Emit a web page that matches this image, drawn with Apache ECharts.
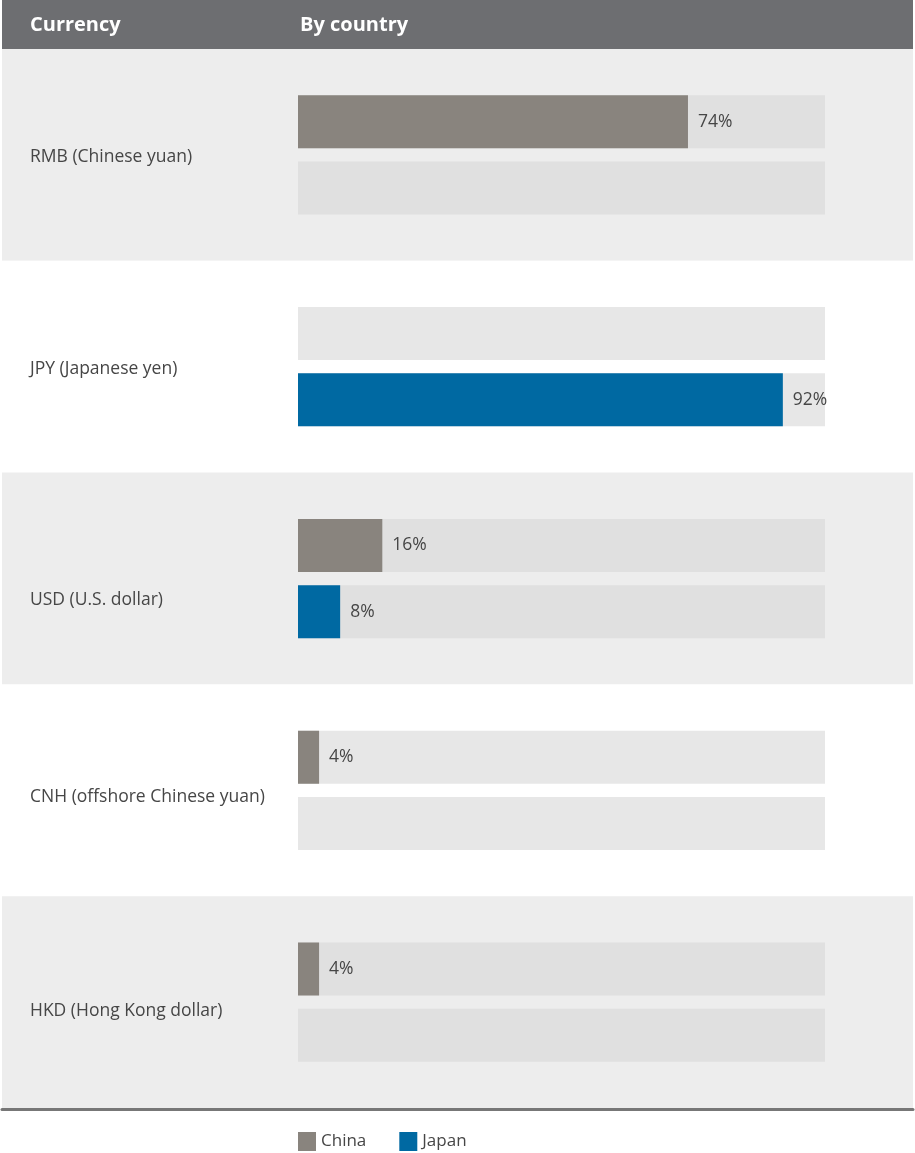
<!DOCTYPE html>
<html>
<head>
<meta charset="utf-8">
<title>Currency by country</title>
<script src="https://cdn.jsdelivr.net/npm/echarts@6/dist/echarts.min.js"></script>
<style>
  html, body { margin: 0; padding: 0; background: #ffffff; }
  #chart { width: 915px; height: 1153px; }
</style>
</head>
<body>
<div id="chart"></div>
<script>
// Currencies, top to bottom
const currencies = [
  'RMB (Chinese yuan)',
  'JPY (Japanese yen)',
  'USD (U.S. dollar)',
  'CNH (offshore Chinese yuan)',
  'HKD (Hong Kong dollar)'
];
// Share of each currency by country (%), '-' where no value is reported
const chinaShare = [74, '-', 16, 4, 4];
const japanShare = ['-', 92, 8, '-', '-'];
const seriesNames = ['China', 'Japan'];
const headerLabels = ['Currency', 'By country'];

const FONT = '"Open Sans", "Noto Sans", sans-serif';
const TEXT = '#464646';

// Downward nudge (px) of each row label inside its band
const labelNudge = [2, 2, 22, 7, 9];
const labelRich = {};
labelNudge.forEach(function (n, i) {
  labelRich['r' + i] = {
    color: TEXT, fontFamily: FONT, fontSize: 17.5,
    padding: [2 * n, 0, 0, 0]
  };
});

const chart = echarts.init(document.getElementById('chart'));

const valueLabel = {
  show: true,
  position: 'right',
  distance: 10,
  formatter: '{c}%',
  color: TEXT,
  fontFamily: FONT,
  fontSize: 17.5
};

chart.setOption({
  animation: false,
  backgroundColor: '#ffffff',
  graphic: [
    { type: 'rect', shape: { x: 2, y: 0, width: 911, height: 49 }, style: { fill: '#6d6e71' }, z: 10 },
    { type: 'text', x: 30, y: 25, style: { text: headerLabels[0], fill: '#ffffff', font: 'bold 20px ' + FONT, verticalAlign: 'middle' }, z: 11 },
    { type: 'text', x: 300, y: 25, style: { text: headerLabels[1], fill: '#ffffff', font: 'bold 20px ' + FONT, verticalAlign: 'middle' }, z: 11 }
  ],
  legend: {
    data: seriesNames,
    left: 293,
    top: 1127,
    icon: 'rect',
    itemWidth: 18,
    itemHeight: 19,
    itemGap: 33,
    textStyle: { color: TEXT, fontFamily: FONT, fontSize: 17 }
  },
  grid: [
    { left: 298, right: 90, top: 49, bottom: 45 },
    { left: 2, right: 2, top: 49, bottom: 45 }
  ],
  xAxis: [
    { type: 'value', gridIndex: 0, min: 0, max: 100, show: false },
    {
      type: 'value', gridIndex: 1, min: 0, max: 100, offset: 1.5,
      axisLine: { show: true, lineStyle: { color: '#777777', width: 3 } },
      axisTick: { show: false }, axisLabel: { show: false }, splitLine: { show: false }
    }
  ],
  yAxis: [
    {
      type: 'category', gridIndex: 0, data: currencies, inverse: true,
      axisLine: { show: false }, axisTick: { show: false },
      axisLabel: {
        align: 'left', margin: 268, color: TEXT, fontFamily: FONT, fontSize: 17.5,
        formatter: function (value, index) { return '{r' + index + '|' + value + '}'; },
        rich: labelRich
      }
    },
    {
      type: 'category', gridIndex: 1, data: currencies, inverse: true,
      axisLine: { show: false }, axisTick: { show: false }, axisLabel: { show: false },
      splitLine: { show: false },
      splitArea: { show: true, areaStyle: { color: ['#ededed', '#ffffff'] } }
    }
  ],
  series: [
    {
      name: seriesNames[0], type: 'bar', xAxisIndex: 0, yAxisIndex: 0,
      data: chinaShare, barWidth: 53, barGap: '25%',
      itemStyle: { color: '#89847e' },
      showBackground: true,
      backgroundStyle: { color: 'rgba(216,216,216,0.61)' },
      label: valueLabel
    },
    {
      name: seriesNames[1], type: 'bar', xAxisIndex: 0, yAxisIndex: 0,
      data: japanShare, barWidth: 53, barGap: '25%',
      itemStyle: { color: '#0069a2' },
      showBackground: true,
      backgroundStyle: { color: 'rgba(216,216,216,0.61)' },
      label: valueLabel
    }
  ]
});
</script>
</body>
</html>
